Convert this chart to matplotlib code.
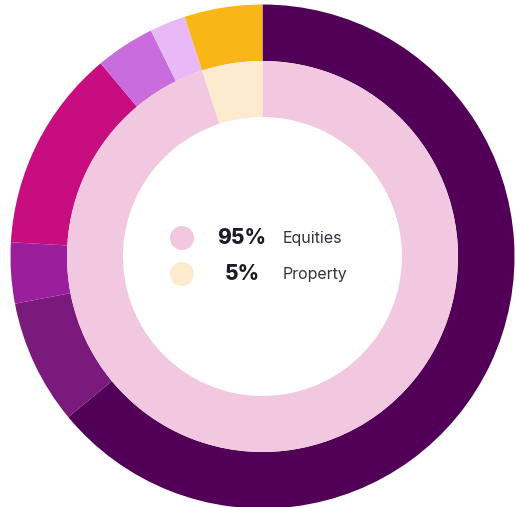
import matplotlib.pyplot as plt

# outer ring (holdings)
outer_vals = [64.0, 8.0, 3.9, 13.0, 3.8, 2.3, 5.0]
outer_colors = ['#520057', '#7A1A7C', '#9B1E9D', '#C80D80', '#C86CDE', '#E8B9F6', '#F8B716']

# inner ring (asset classes)
inner_labels = ['Equities', 'Property']
inner_vals = [95, 5]
inner_colors = ['#F2C7E0', '#FDEBCF']

fig = plt.figure(figsize=(5.16, 5.07), dpi=100)
ax = fig.add_axes([0, 0, 1, 1])

cx, cy = 262.5, 507 - 256.5

ax.pie(outer_vals, colors=outer_colors, radius=252, center=(cx, cy),
       startangle=90, counterclock=False, frame=True,
       wedgeprops=dict(width=56.5, linewidth=0))
ax.pie(inner_vals, colors=inner_colors, radius=195.5, center=(cx, cy),
       startangle=90, counterclock=False, frame=True,
       wedgeprops=dict(width=56, linewidth=0))
ax.set_xlim(0, 516)
ax.set_ylim(0, 507)
ax.set_aspect('equal')
ax.axis('off')

# center legend
rows_y = [507 - 238, 507 - 274]
for i in range(len(inner_labels)):
    y = rows_y[i]
    ax.add_patch(plt.Circle((182, y), 12, color=inner_colors[i], lw=0))
    ax.text(242, y, f'{inner_vals[i]}%', ha='center', va='center',
            fontsize=15, fontweight='heavy', color='#1c1c28', family='Inter')
    ax.text(283, y, inner_labels[i], ha='left', va='center',
            fontsize=11.5, color='#333340', family='Inter')

plt.savefig('out.png', dpi=100)
plt.close(fig)
